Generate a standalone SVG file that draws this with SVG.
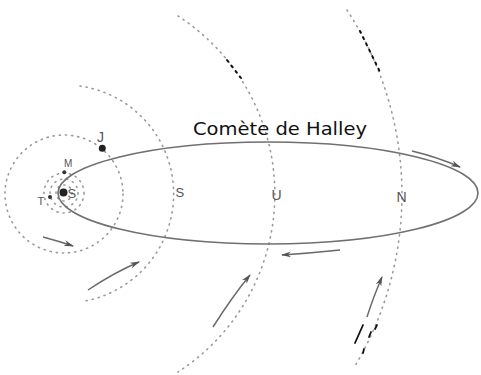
<svg xmlns="http://www.w3.org/2000/svg" width="481" height="375" viewBox="0 0 481 375">
<style>
.orb{fill:none;stroke:#9a9a9a;stroke-width:1.6;stroke-dasharray:1.2 5;stroke-linecap:round}
.dark{fill:none;stroke:#111;stroke-width:2;stroke-dasharray:2 5;stroke-linecap:round}
.arr{fill:none;stroke:#6a6a6a;stroke-width:1.5;marker-end:url(#ah)}
.lbl{font-family:"Liberation Sans",Arial,sans-serif;fill:#555}
.title{font-family:"DejaVu Sans","Liberation Sans",sans-serif;fill:#111}
</style>
<defs>
<marker id="ah" viewBox="0 0 10 6" refX="9" refY="3" markerWidth="10" markerHeight="6" markerUnits="userSpaceOnUse" orient="auto">
<path d="M0 0 L10 3 L0 6 L3 3 Z" fill="#555"/>
</marker>
</defs>
<rect width="481" height="375" fill="#fff"/>
<g id="orbits">
<circle id="orbit-inner" class="orb" cx="64" cy="193" r="8"/>
<circle id="orbit-terre" class="orb" cx="64" cy="193" r="14"/>
<circle id="orbit-mars" class="orb" cx="64" cy="193" r="20"/>
<circle id="orbit-jupiter" class="orb" cx="64" cy="194" r="59"/>
<path id="orbit-saturne" class="orb" d="M80 86 A109 109 0 0 1 85 301"/>
<path id="orbit-uranus" class="orb" d="M178 16 A212 212 0 0 1 178 372"/>
<path id="orbit-neptune" class="orb" d="M347 10 A337 337 0 0 1 355 366"/>
<path class="dark" d="M227 60 L241 78"/>
<path class="dark" d="M360 31 L381 74"/>
<path d="M355 343 L363 325 M369 337 L371 332 M375 329 L377 325 M363 353 L364 349" stroke="#111" stroke-width="1.8" stroke-linecap="round" fill="none"/>
</g>
<g id="comete">
<ellipse cx="268" cy="193" rx="210" ry="51" fill="none" stroke="#707070" stroke-width="1.6"/>
<text class="title" x="193" y="135" font-size="18" textLength="174" lengthAdjust="spacingAndGlyphs">Comète de Halley</text>
</g>
<g id="soleil">
<circle cx="63.5" cy="192.5" r="4" fill="#222"/>
<text class="lbl" x="67.5" y="198" font-size="13" fill="#444">S</text>
</g>
<g id="terre">
<circle cx="50" cy="197" r="2" fill="#333"/>
<text class="lbl" x="37.5" y="205" font-size="11">T</text>
</g>
<g id="mars">
<circle cx="64.3" cy="172.3" r="2" fill="#333"/>
<text class="lbl" x="64" y="167" font-size="10">M</text>
</g>
<g id="jupiter">
<circle cx="102.3" cy="148.3" r="3.5" fill="#222"/>
<text class="lbl" x="97" y="142" font-size="14" fill="#333">J</text>
</g>
<g id="saturne"><text class="lbl" x="175.5" y="197" font-size="13">S</text></g>
<g id="uranus"><text class="lbl" x="271.5" y="200" font-size="14">U</text></g>
<g id="neptune"><text class="lbl" x="396.5" y="202" font-size="14">N</text></g>
<g id="connectors">
<path class="arr" d="M412 151 Q437 157 460 167"/>
<path class="arr" d="M340 250 Q312 253 282 255"/>
<path class="arr" d="M213 327 Q232 297 250 275"/>
<path class="arr" d="M367 317 Q373 298 382 277"/>
<path class="arr" d="M88 290 Q115 272 139 262"/>
<path class="arr" d="M43 237 Q58 241 73 246"/>
</g>
</svg>
